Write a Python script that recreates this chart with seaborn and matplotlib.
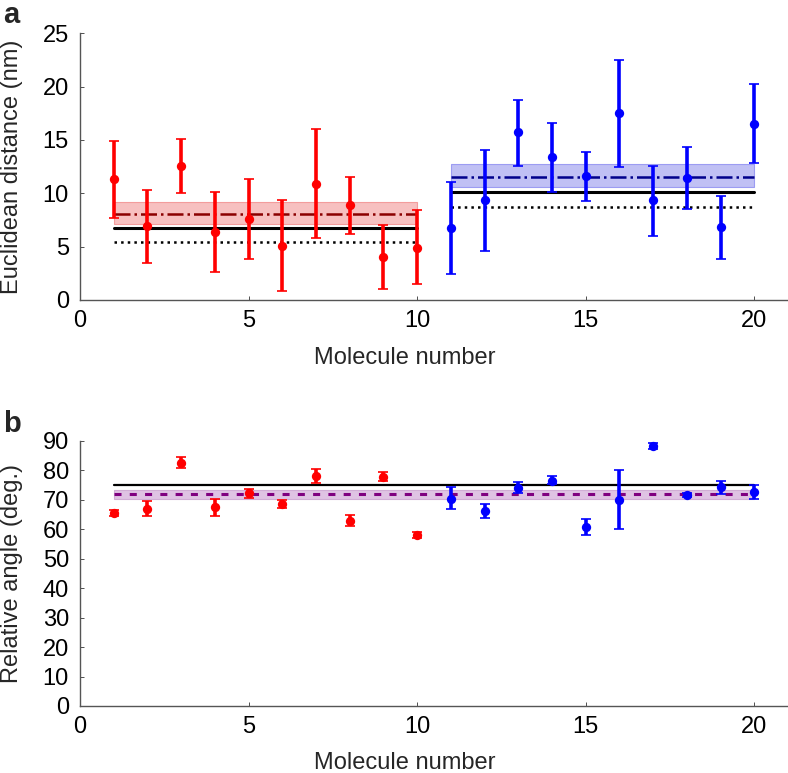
import numpy as np
import pandas as pd
import seaborn as sns
import matplotlib.pyplot as plt

# Panel a: Euclidean distance (nm)
mol_red = [1, 2, 3, 4, 5, 6, 7, 8, 9, 10]
mol_blue = [11, 12, 13, 14, 15, 16, 17, 18, 19, 20]
dist_red = [11.3, 6.9, 12.6, 6.4, 7.6, 5.1, 10.9, 8.9, 4.0, 4.9]
dist_red_lo = [7.65, 3.5, 10.0, 2.6, 3.8, 0.8, 5.8, 6.15, 1.0, 1.5]
dist_red_hi = [14.9, 10.3, 15.1, 10.1, 11.3, 9.4, 16.0, 11.5, 7.0, 8.4]
dist_blue = [6.7, 9.4, 15.7, 13.4, 11.6, 17.5, 9.4, 11.4, 6.8, 16.5]
dist_blue_lo = [2.4, 4.6, 12.55, 10.1, 9.3, 12.5, 6.0, 8.55, 3.8, 12.8]
dist_blue_hi = [11.05, 14.1, 18.75, 16.6, 13.9, 22.5, 12.6, 14.3, 9.7, 20.2]

# summary lines panel a: mean, band, solid, dotted
red_mean, red_band = 8.1, (7.1, 9.2)
red_solid, red_dotted = 6.7, 5.4
blue_mean, blue_band = 11.55, (10.6, 12.7)
blue_solid, blue_dotted = 10.1, 8.7

# Panel b: relative angle (deg.)
ang_red = [65.6, 67.0, 82.5, 67.5, 72.2, 68.7, 78.2, 62.9, 77.7, 58.0]
ang_red_lo = [64.6, 64.5, 80.7, 64.5, 70.7, 67.1, 75.6, 61.0, 76.2, 57.0]
ang_red_hi = [66.6, 69.7, 84.5, 70.3, 73.6, 70.0, 80.6, 64.9, 79.3, 59.0]
ang_blue = [70.4, 66.2, 74.0, 76.4, 60.9, 70.0, 88.2, 71.6, 74.3, 72.7]
ang_blue_lo = [66.7, 63.9, 72.2, 75.2, 58.2, 60.0, 87.2, 71.0, 71.9, 70.3]
ang_blue_hi = [74.4, 68.5, 75.9, 77.9, 63.5, 80.1, 89.2, 72.2, 76.4, 75.0]
ang_solid = 75.1
ang_mean, ang_band = 71.8, (70.2, 73.3)

sns.set_style("ticks")
plt.rcParams['font.family'] = ['Liberation Sans', 'DejaVu Sans']

RED = '#ff0000'
BLUE = '#0000ff'
FS = 17

fig = plt.figure(figsize=(7.88, 7.73), dpi=100)
ax1 = fig.add_axes([0.1015, 0.612, 0.8985, 0.345])
ax2 = fig.add_axes([0.1015, 0.0867, 0.8985, 0.343])


def draw_points(ax, x, y, lo, hi, color):
    y = np.array(y)
    yerr = [y - np.array(lo), np.array(hi) - y]
    ax.errorbar(x, y, yerr=yerr, fmt='none', ecolor=color, elinewidth=2.6,
                capsize=3.5, capthick=1.2, zorder=4)
    df = pd.DataFrame({'x': x, 'y': y})
    sns.scatterplot(data=df, x='x', y='y', ax=ax, color=color, s=45,
                    edgecolor=color, linewidth=0, zorder=5)


# panel a
ax1.fill_between([mol_red[0], mol_red[-1]], *red_band, color='#f4a6a6', alpha=0.7,
                 edgecolor='#f08080', lw=0.8, zorder=1)
ax1.fill_between([mol_blue[0], mol_blue[-1]], *blue_band, color='#a6a6f0', alpha=0.7,
                 edgecolor='#8080f0', lw=0.8, zorder=1)
for xs, m, s, d, c in [(mol_red, red_mean, red_solid, red_dotted, '#8b0000'),
                       (mol_blue, blue_mean, blue_solid, blue_dotted, '#00008b')]:
    ax1.plot([xs[0], xs[-1]], [m, m], color=c, ls='-.', lw=1.8, zorder=2)
    ax1.plot([xs[0], xs[-1]], [s, s], color='black', ls='-', lw=2.2, zorder=2)
    ax1.plot([xs[0], xs[-1]], [d, d], color='black', ls=':', lw=1.8, zorder=2)
draw_points(ax1, mol_red, dist_red, dist_red_lo, dist_red_hi, RED)
draw_points(ax1, mol_blue, dist_blue, dist_blue_lo, dist_blue_hi, BLUE)
ax1.set_xlim(0, 21)
ax1.set_ylim(0, 25)
ax1.set_yticks([0, 5, 10, 15, 20, 25])
ax1.set_ylabel('Euclidean distance (nm)', fontsize=FS)

# panel b
ax2.fill_between([1, 20], *ang_band, color='#d8b4dc', alpha=0.8,
                 edgecolor='#c9a0cf', lw=0.8, zorder=1)
ax2.plot([1, 20], [ang_solid, ang_solid], color='black', lw=1.6, zorder=2)
ax2.plot([1, 20], [ang_mean, ang_mean], color='#800080', ls=(0, (2.3, 2.7)), lw=2.2, zorder=2)
draw_points(ax2, mol_red, ang_red, ang_red_lo, ang_red_hi, RED)
draw_points(ax2, mol_blue, ang_blue, ang_blue_lo, ang_blue_hi, BLUE)
ax2.set_xlim(0, 21)
ax2.set_ylim(0, 90)
ax2.set_yticks(range(0, 91, 10))
ax2.set_ylabel('Relative angle (deg.)', fontsize=FS)

for ax in (ax1, ax2):
    ax.set_xticks([0, 5, 10, 15, 20])
    ax.set_xlabel('Molecule number', fontsize=FS)
    ax.tick_params(direction='in', length=3, width=0.6, labelsize=FS, colors='#333333',
                   labelcolor='black')
    ax.tick_params(axis='y', pad=8)
    ax.tick_params(axis='x', pad=7)
    ax.xaxis.set_label_coords(0.458, -0.175)
    ax.yaxis.set_label_coords(-0.08, 0.5)
    sns.despine(ax=ax)
    for sp in ('left', 'bottom'):
        ax.spines[sp].set_color('#555555')
        ax.spines[sp].set_linewidth(1.0)

fig.text(0.004, 1 - 23 / 773, 'a', fontsize=21, fontweight='bold', va='baseline')
fig.text(0.004, 1 - 432 / 773, 'b', fontsize=21, fontweight='bold', va='baseline')

fig.savefig('out.png', dpi=100)
